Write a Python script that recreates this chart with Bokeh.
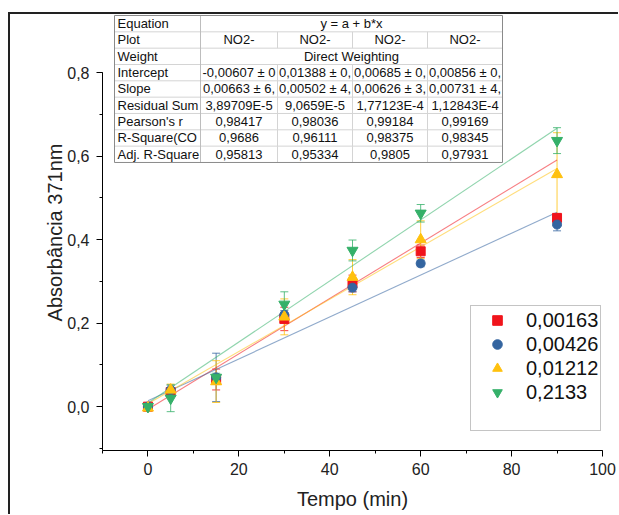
from bokeh.plotting import figure
from bokeh.models import (ColumnDataSource, Whisker, TeeHead, Legend, LegendItem,
                          SingleIntervalTicker, CustomJSTickFormatter)
from bokeh.core.properties import value
from bokeh.embed import file_html
from bokeh.resources import INLINE

# ---------------- data ----------------
time_min = [0, 5, 15, 30, 45, 60, 90]
series_labels = ["0,00163", "0,00426", "0,01212", "0,2133"]

abs_00163 = [0.000, 0.035, 0.065, 0.210, 0.295, 0.372, 0.452]
abs_00426 = [0.000, 0.040, 0.070, 0.220, 0.285, 0.343, 0.436]
abs_01212 = [-0.003, 0.040, 0.060, 0.215, 0.310, 0.400, 0.556]
abs_2133 = [0.000, 0.020, 0.070, 0.245, 0.374, 0.463, 0.637]

err_00163 = [0.005, 0.010, 0.025, 0.028, 0.020, 0.015, 0.010]
err_00426 = [0.005, 0.012, 0.058, 0.010, 0.010, 0.008, 0.015]
err_01212 = [0.005, 0.014, 0.050, 0.043, 0.042, 0.045, 0.100]
err_2133 = [0.005, 0.032, 0.010, 0.030, 0.025, 0.021, 0.031]

intercepts = [-0.00607, 0.01388, 0.00685, 0.00856]
slopes = [0.00663, 0.00502, 0.00626, 0.00731]

table_row_labels = ["Equation", "Plot", "Weight", "Intercept", "Slope",
                    "Residual Sum", "Pearson's r", "R-Square(CO", "Adj. R-Square"]
equation_txt = "y = a + b*x"
plot_txt = ["NO2-", "NO2-", "NO2-", "NO2-"]
weight_txt = "Direct Weighting"
intercept_txt = ["-0,00607 ± 0", "0,01388 ± 0,", "0,00685 ± 0,", "0,00856 ± 0,"]
slope_txt = ["0,00663 ± 6,", "0,00502 ± 4,", "0,00626 ± 3,", "0,00731 ± 4,"]
rss_txt = ["3,89709E-5", "9,0659E-5", "1,77123E-4", "1,12843E-4"]
pearson_txt = ["0,98417", "0,98036", "0,99184", "0,99169"]
r2_txt = ["0,9686", "0,96111", "0,98375", "0,98345"]
adjr2_txt = ["0,95813", "0,95334", "0,9805", "0,97931"]

x_ticks_interval = 20
y_ticks_interval = 0.2

# ---------------- styles ----------------
FONT = "Liberation Sans"
colors = ["#f0141c", "#3465a0", "#ffc10e", "#35b069"]
markers = ["square", "circle", "triangle", "inverted_triangle"]
sizes = [9, 9, 11, 11]

X0, X1 = -10, 100
Y0, Y1 = -0.105, 0.939
FRAME_W, FRAME_H = 500, 436

p = figure(width=92 + FRAME_W + 16, height=FRAME_H + 64,
           frame_width=FRAME_W, frame_height=FRAME_H,
           min_border_left=92, min_border_right=16, min_border_top=0, min_border_bottom=64,
           x_range=(X0, X1), y_range=(Y0, Y1),
           output_backend="svg", toolbar_location=None, tools="")
p.styles = {"margin-top": "12px", "margin-left": "8px",
            "border-top": "2px solid #222", "border-left": "2px solid #222"}
p.outline_line_color = None
p.grid.grid_line_color = None
p.background_fill_color = "white"
p.border_fill_color = "white"

# axes
p.xaxis.ticker = SingleIntervalTicker(interval=x_ticks_interval, num_minor_ticks=2)
p.yaxis.ticker = SingleIntervalTicker(interval=y_ticks_interval, num_minor_ticks=2)
p.yaxis.bounds = (Y0, 0.8)
p.yaxis.formatter = CustomJSTickFormatter(code="return tick.toFixed(1).replace('.', ',');")
for ax in (p.xaxis[0], p.yaxis[0]):
    ax.axis_line_color = "black"
    ax.axis_line_width = 1
    ax.major_tick_line_color = "black"
    ax.minor_tick_line_color = "black"
    ax.major_tick_in = 0
    ax.major_tick_out = 6
    ax.minor_tick_in = 0
    ax.minor_tick_out = 3
    ax.major_label_text_font = FONT
    ax.major_label_text_font_size = "16px"
    ax.major_label_text_color = "#222"
    ax.axis_label_text_font = FONT
    ax.axis_label_text_font_style = "normal"
    ax.axis_label_text_font_size = "20px"
    ax.axis_label_text_color = "#222"
p.xaxis.major_label_standoff = 6
p.yaxis.major_label_standoff = 7
p.xaxis.axis_label = "Tempo (min)"
p.yaxis.axis_label = "Absorbância 371nm"
p.xaxis.axis_label_standoff = 10
p.yaxis.axis_label_standoff = -2

# ---------------- table (inset) ----------------
XS = FRAME_W / (X1 - X0)
YS = FRAME_H / (Y1 - Y0)
FR_L, FR_T = 102, 14


def dx(px):
    return X0 + (px - FR_L) / XS


def dy(py):
    return Y1 - (py - FR_T) / YS


col_px = [114, 200, 277, 352, 427, 502]
row_top_px = 15
row_h_px = 16.33
n_rows = len(table_row_labels)
row_px = [row_top_px + i * row_h_px for i in range(n_rows + 1)]

p.quad(left=[dx(col_px[0])], right=[dx(col_px[-1])], top=[dy(row_px[0])], bottom=[dy(row_px[-1])],
       fill_color="white", line_color=None)

# inner lines
hx0, hx1, hy0, hy1 = [], [], [], []
for r in range(1, n_rows):
    hx0.append(dx(col_px[0])); hx1.append(dx(col_px[-1]))
    hy0.append(dy(row_px[r])); hy1.append(dy(row_px[r]))
p.segment(x0=hx0, x1=hx1, y0=hy0, y1=hy1, line_color="#d4d4d4", line_width=1)
vx0, vy0, vy1 = [], [], []
for c in range(2, 5):
    for r in range(n_rows):
        if table_row_labels[r] in ("Equation", "Weight"):
            continue
        vx0.append(dx(col_px[c])); vy0.append(dy(row_px[r])); vy1.append(dy(row_px[r + 1]))
p.segment(x0=vx0, x1=vx0, y0=vy0, y1=vy1, line_color="#d4d4d4", line_width=1)
p.segment(x0=[dx(col_px[1])], x1=[dx(col_px[1])], y0=[dy(row_px[0])], y1=[dy(row_px[-1])],
          line_color="#bdbdbd", line_width=1)
p.quad(left=[dx(col_px[0])], right=[dx(col_px[-1])], top=[dy(row_px[0])], bottom=[dy(row_px[-1])],
       fill_color=None, line_color="#8a8a8a", line_width=1)

tx, ty, tt, ta = [], [], [], []
for r, lab in enumerate(table_row_labels):
    yc = dy(row_px[r] + row_h_px / 2)
    tx.append(dx(col_px[0] + 3)); ty.append(yc); tt.append(lab); ta.append("left")
    if lab == "Equation":
        cells = [equation_txt]
    elif lab == "Weight":
        cells = [weight_txt]
    else:
        cells = {"Plot": plot_txt, "Intercept": intercept_txt, "Slope": slope_txt,
                 "Residual Sum": rss_txt, "Pearson's r": pearson_txt,
                 "R-Square(CO": r2_txt, "Adj. R-Square": adjr2_txt}[lab]
    if len(cells) == 1:
        tx.append(dx((col_px[1] + col_px[-1]) / 2)); ty.append(yc); tt.append(cells[0]); ta.append("center")
    else:
        for c, txt in enumerate(cells):
            tx.append(dx((col_px[c + 1] + col_px[c + 2]) / 2)); ty.append(yc); tt.append(txt); ta.append("center")
tsrc = ColumnDataSource(dict(x=tx, y=ty, text=tt, align=ta))
p.text(x="x", y="y", text="text", text_align="align", source=tsrc,
       text_font=value(FONT), text_font_size=value("13px"), text_baseline="middle",
       text_color="#111")

# ---------------- fit lines ----------------
t_lo, t_hi = min(time_min), max(time_min)
for a, b, col in zip(intercepts, slopes, colors):
    p.line(x=[t_lo, t_hi], y=[a + b * t_lo, a + b * t_hi], line_color=col, line_alpha=0.55, line_width=1.1)

# ---------------- data points with error bars ----------------
all_y = [abs_00163, abs_00426, abs_01212, abs_2133]
all_e = [err_00163, err_00426, err_01212, err_2133]
renderers = []
for yv, ev, col, mk, sz in zip(all_y, all_e, colors, markers, sizes):
    src = ColumnDataSource(dict(x=time_min, y=yv,
                                upper=[v + e for v, e in zip(yv, ev)],
                                lower=[v - e for v, e in zip(yv, ev)]))
    w = Whisker(source=src, base="x", upper="upper", lower="lower",
                line_color=col, line_alpha=0.8, line_width=1,
                upper_head=TeeHead(size=8, line_color=col, line_alpha=0.8, line_width=1),
                lower_head=TeeHead(size=8, line_color=col, line_alpha=0.8, line_width=1))
    p.add_layout(w)
    r = p.scatter(x="x", y="y", source=src, marker=mk, size=sz, fill_color=col, line_color=col)
    renderers.append(r)

blank = p.scatter(x=time_min[:1], y=abs_00163[:1], marker="square", size=1, fill_alpha=0, line_alpha=0)

items = [LegendItem(label=lab, renderers=[r]) for lab, r in zip(series_labels, renderers)]
items.append(LegendItem(label=" ", renderers=[blank]))
legend = Legend(items=items, location=(368, 19))
legend.label_text_font = FONT
legend.label_text_font_size = "20px"
legend.label_text_color = "#111"
legend.label_height = 24
legend.glyph_height = 24
legend.glyph_width = 48
legend.label_standoff = 5
legend.spacing = 0
legend.padding = 2
legend.margin = 0
legend.border_line_color = "#8a8a8a"
legend.border_line_width = 1
legend.background_fill_color = "white"
legend.background_fill_alpha = 1
p.add_layout(legend)

open("out.html", "w").write(file_html(p, INLINE))
